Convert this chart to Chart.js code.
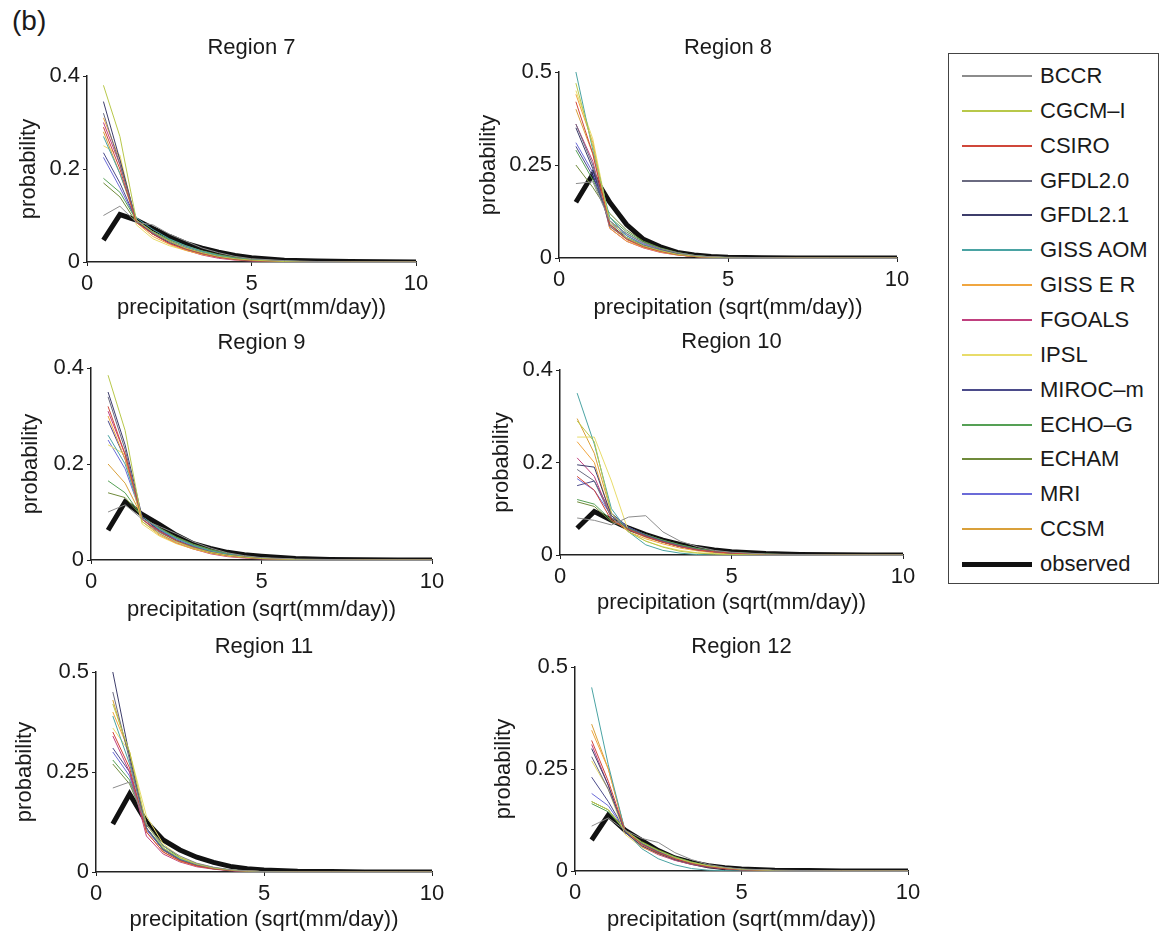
<!DOCTYPE html>
<html>
<head>
<meta charset="utf-8">
<script src="https://cdn.jsdelivr.net/npm/chart.js@4.4.0/dist/chart.umd.min.js"></script>
<style>
  body { margin: 0; background: #fff; width: 1163px; height: 933px; position: relative; overflow: hidden;
         font-family: "Liberation Sans", Arial, sans-serif; color: #1a1a1a; }
  canvas { position: absolute; }
  #tag { position: absolute; left: 12px; top: 5px; font-size: 28px; }
  #legend { position: absolute; left: 948px; top: 53px; width: 211px; height: 531px;
            border: 1px solid #444; box-sizing: border-box; }
  .row { position: absolute; left: 0; height: 26px; font-size: 22px; line-height: 26px; width: 100%; }
  .swatch { position: absolute; left: 13px; width: 70px; }
  .label { position: absolute; left: 91px; white-space: nowrap; }
</style>
</head>
<body>
<div id="tag">(b)</div>
<div id="legend"></div>
<script>
// precipitation bins, sqrt(mm/day)
const xValues = [0.5, 1, 1.5, 2, 2.5, 3, 3.5, 4, 4.5, 5, 6, 7, 8, 9, 10];

const models = ['BCCR', 'CGCM\u2013I', 'CSIRO', 'GFDL2.0', 'GFDL2.1', 'GISS AOM', 'GISS E R',
                'FGOALS', 'IPSL', 'MIROC\u2013m', 'ECHO\u2013G', 'ECHAM', 'MRI', 'CCSM'];
const modelColors = ['#8c8c8c', '#b8c84a', '#d0473a', '#6a6a80', '#3d3d6b', '#4aa3a3', '#f0a640',
                     '#c0407f', '#e8dc6a', '#4b4b8a', '#55a055', '#6f8a3a', '#6b6bd8', '#d9a03a'];

// one row per model, same order as `models`
const region7 = [
  [0.10, 0.12, 0.085, 0.08, 0.06, 0.045, 0.03, 0.02, 0.012, 0.007, 0.003, 0.001, 0, 0, 0],
  [0.38, 0.27, 0.09, 0.065, 0.045, 0.03, 0.02, 0.012, 0.007, 0.004, 0.001, 0, 0, 0, 0],
  [0.29, 0.20, 0.085, 0.06, 0.04, 0.028, 0.018, 0.01, 0.006, 0.003, 0.001, 0, 0, 0, 0],
  [0.32, 0.21, 0.09, 0.062, 0.045, 0.03, 0.02, 0.012, 0.007, 0.004, 0.001, 0, 0, 0, 0],
  [0.345, 0.22, 0.088, 0.06, 0.042, 0.028, 0.018, 0.011, 0.006, 0.003, 0.001, 0, 0, 0, 0],
  [0.27, 0.19, 0.095, 0.07, 0.05, 0.035, 0.023, 0.014, 0.008, 0.005, 0.002, 0, 0, 0, 0],
  [0.31, 0.22, 0.085, 0.055, 0.038, 0.025, 0.016, 0.01, 0.005, 0.003, 0.001, 0, 0, 0, 0],
  [0.30, 0.21, 0.09, 0.06, 0.04, 0.026, 0.015, 0.008, 0.004, 0.002, 0.001, 0, 0, 0, 0],
  [0.25, 0.23, 0.08, 0.05, 0.035, 0.025, 0.017, 0.01, 0.006, 0.003, 0.001, 0, 0, 0, 0],
  [0.235, 0.17, 0.09, 0.065, 0.045, 0.03, 0.02, 0.012, 0.007, 0.004, 0.001, 0, 0, 0, 0],
  [0.18, 0.15, 0.09, 0.065, 0.048, 0.034, 0.023, 0.015, 0.009, 0.005, 0.002, 0, 0, 0, 0],
  [0.17, 0.14, 0.085, 0.065, 0.048, 0.035, 0.024, 0.016, 0.01, 0.006, 0.002, 0, 0, 0, 0],
  [0.225, 0.16, 0.09, 0.063, 0.045, 0.032, 0.021, 0.013, 0.008, 0.004, 0.001, 0, 0, 0, 0],
  [0.28, 0.19, 0.09, 0.062, 0.044, 0.03, 0.02, 0.012, 0.007, 0.004, 0.001, 0, 0, 0, 0]
];
const observed7 = [0.047, 0.102, 0.09, 0.072, 0.055, 0.04, 0.03, 0.021, 0.014, 0.009, 0.004, 0.002, 0.001, 0.0005, 0];

const region8 = [
  [0.20, 0.205, 0.10, 0.065, 0.04, 0.025, 0.014, 0.007, 0.003, 0.002, 0.001, 0, 0, 0, 0],
  [0.47, 0.30, 0.10, 0.055, 0.033, 0.02, 0.01, 0.005, 0.002, 0.001, 0, 0, 0, 0, 0],
  [0.42, 0.28, 0.09, 0.05, 0.03, 0.018, 0.009, 0.004, 0.002, 0.001, 0, 0, 0, 0, 0],
  [0.36, 0.25, 0.085, 0.052, 0.032, 0.019, 0.01, 0.005, 0.002, 0.001, 0, 0, 0, 0, 0],
  [0.35, 0.24, 0.09, 0.055, 0.034, 0.02, 0.011, 0.005, 0.002, 0.001, 0, 0, 0, 0, 0],
  [0.50, 0.29, 0.11, 0.06, 0.035, 0.02, 0.01, 0.005, 0.002, 0.001, 0, 0, 0, 0, 0],
  [0.44, 0.31, 0.08, 0.045, 0.028, 0.016, 0.008, 0.004, 0.002, 0.001, 0, 0, 0, 0, 0],
  [0.36, 0.26, 0.08, 0.045, 0.027, 0.015, 0.008, 0.004, 0.002, 0.001, 0, 0, 0, 0, 0],
  [0.45, 0.32, 0.095, 0.05, 0.03, 0.017, 0.009, 0.004, 0.002, 0.001, 0, 0, 0, 0, 0],
  [0.30, 0.22, 0.10, 0.065, 0.04, 0.024, 0.013, 0.006, 0.003, 0.001, 0, 0, 0, 0, 0],
  [0.29, 0.21, 0.11, 0.07, 0.043, 0.026, 0.014, 0.007, 0.003, 0.001, 0, 0, 0, 0, 0],
  [0.25, 0.19, 0.12, 0.075, 0.045, 0.027, 0.015, 0.007, 0.003, 0.001, 0, 0, 0, 0, 0],
  [0.31, 0.23, 0.095, 0.06, 0.037, 0.022, 0.012, 0.006, 0.003, 0.001, 0, 0, 0, 0, 0],
  [0.40, 0.28, 0.085, 0.05, 0.03, 0.017, 0.009, 0.004, 0.002, 0.001, 0, 0, 0, 0, 0]
];
const observed8 = [0.15, 0.225, 0.15, 0.09, 0.05, 0.03, 0.015, 0.008, 0.004, 0.002, 0.001, 0, 0, 0, 0];

const region9 = [
  [0.10, 0.115, 0.085, 0.07, 0.055, 0.038, 0.025, 0.015, 0.009, 0.005, 0.002, 0.001, 0, 0, 0],
  [0.385, 0.27, 0.08, 0.055, 0.038, 0.025, 0.016, 0.01, 0.006, 0.003, 0.001, 0, 0, 0, 0],
  [0.32, 0.22, 0.085, 0.06, 0.04, 0.026, 0.016, 0.01, 0.006, 0.003, 0.001, 0, 0, 0, 0],
  [0.34, 0.23, 0.085, 0.058, 0.04, 0.027, 0.017, 0.01, 0.006, 0.003, 0.001, 0, 0, 0, 0],
  [0.35, 0.24, 0.09, 0.06, 0.04, 0.026, 0.016, 0.01, 0.006, 0.003, 0.001, 0, 0, 0, 0],
  [0.26, 0.20, 0.09, 0.065, 0.045, 0.03, 0.019, 0.012, 0.007, 0.004, 0.001, 0, 0, 0, 0],
  [0.30, 0.21, 0.08, 0.052, 0.035, 0.023, 0.014, 0.008, 0.005, 0.003, 0.001, 0, 0, 0, 0],
  [0.31, 0.22, 0.085, 0.055, 0.036, 0.023, 0.013, 0.007, 0.004, 0.002, 0.001, 0, 0, 0, 0],
  [0.24, 0.22, 0.075, 0.05, 0.034, 0.023, 0.015, 0.009, 0.005, 0.003, 0.001, 0, 0, 0, 0],
  [0.29, 0.21, 0.09, 0.062, 0.042, 0.028, 0.018, 0.011, 0.006, 0.003, 0.001, 0, 0, 0, 0],
  [0.165, 0.14, 0.09, 0.066, 0.047, 0.032, 0.021, 0.013, 0.008, 0.004, 0.001, 0, 0, 0, 0],
  [0.14, 0.13, 0.09, 0.067, 0.048, 0.033, 0.022, 0.014, 0.008, 0.004, 0.001, 0, 0, 0, 0],
  [0.25, 0.19, 0.09, 0.063, 0.044, 0.03, 0.019, 0.012, 0.007, 0.004, 0.001, 0, 0, 0, 0],
  [0.20, 0.16, 0.09, 0.064, 0.045, 0.031, 0.02, 0.012, 0.007, 0.004, 0.001, 0, 0, 0, 0]
];
const observed9 = [0.062, 0.121, 0.095, 0.074, 0.052, 0.034, 0.024, 0.016, 0.011, 0.008, 0.003, 0.001, 0.0005, 0, 0];

const region10 = [
  [0.08, 0.075, 0.065, 0.082, 0.085, 0.05, 0.03, 0.018, 0.01, 0.006, 0.002, 0.001, 0, 0, 0],
  [0.29, 0.245, 0.09, 0.05, 0.03, 0.017, 0.008, 0.004, 0.002, 0.001, 0, 0, 0, 0, 0],
  [0.17, 0.14, 0.075, 0.055, 0.04, 0.028, 0.018, 0.011, 0.007, 0.004, 0.001, 0, 0, 0, 0],
  [0.185, 0.16, 0.08, 0.056, 0.041, 0.029, 0.019, 0.012, 0.007, 0.004, 0.001, 0, 0, 0, 0],
  [0.195, 0.19, 0.085, 0.055, 0.04, 0.028, 0.018, 0.011, 0.007, 0.004, 0.001, 0, 0, 0, 0],
  [0.35, 0.24, 0.10, 0.05, 0.022, 0.01, 0.004, 0.001, 0, 0, 0, 0, 0, 0, 0],
  [0.245, 0.20, 0.08, 0.05, 0.035, 0.024, 0.015, 0.009, 0.005, 0.003, 0.001, 0, 0, 0, 0],
  [0.21, 0.17, 0.08, 0.055, 0.04, 0.028, 0.018, 0.011, 0.006, 0.003, 0.001, 0, 0, 0, 0],
  [0.255, 0.255, 0.16, 0.05, 0.03, 0.018, 0.01, 0.005, 0.003, 0.001, 0, 0, 0, 0, 0],
  [0.15, 0.16, 0.09, 0.06, 0.043, 0.03, 0.02, 0.012, 0.007, 0.004, 0.001, 0, 0, 0, 0],
  [0.12, 0.11, 0.075, 0.058, 0.044, 0.032, 0.022, 0.014, 0.008, 0.005, 0.002, 0, 0, 0, 0],
  [0.115, 0.105, 0.072, 0.057, 0.044, 0.032, 0.022, 0.014, 0.009, 0.005, 0.002, 0, 0, 0, 0],
  [0.165, 0.14, 0.085, 0.06, 0.043, 0.03, 0.02, 0.012, 0.007, 0.004, 0.001, 0, 0, 0, 0],
  [0.295, 0.22, 0.09, 0.055, 0.038, 0.027, 0.018, 0.011, 0.006, 0.003, 0.001, 0, 0, 0, 0]
];
const observed10 = [0.058, 0.094, 0.075, 0.058, 0.044, 0.032, 0.023, 0.016, 0.011, 0.007, 0.003, 0.0012, 0.0005, 0, 0];

const region11 = [
  [0.21, 0.225, 0.12, 0.065, 0.04, 0.022, 0.012, 0.006, 0.003, 0.001, 0, 0, 0, 0, 0],
  [0.42, 0.30, 0.12, 0.06, 0.035, 0.02, 0.01, 0.005, 0.002, 0.001, 0, 0, 0, 0, 0],
  [0.35, 0.26, 0.10, 0.05, 0.028, 0.015, 0.008, 0.004, 0.002, 0.001, 0, 0, 0, 0, 0],
  [0.45, 0.28, 0.11, 0.055, 0.03, 0.017, 0.009, 0.004, 0.002, 0.001, 0, 0, 0, 0, 0],
  [0.50, 0.29, 0.11, 0.055, 0.03, 0.016, 0.008, 0.004, 0.002, 0.001, 0, 0, 0, 0, 0],
  [0.39, 0.27, 0.11, 0.06, 0.033, 0.018, 0.01, 0.005, 0.002, 0.001, 0, 0, 0, 0, 0],
  [0.40, 0.30, 0.10, 0.05, 0.027, 0.015, 0.008, 0.004, 0.002, 0.001, 0, 0, 0, 0, 0],
  [0.34, 0.25, 0.09, 0.045, 0.025, 0.013, 0.007, 0.003, 0.001, 0, 0, 0, 0, 0, 0],
  [0.36, 0.30, 0.14, 0.07, 0.038, 0.02, 0.01, 0.005, 0.002, 0.001, 0, 0, 0, 0, 0],
  [0.31, 0.25, 0.11, 0.058, 0.032, 0.018, 0.01, 0.005, 0.002, 0.001, 0, 0, 0, 0, 0],
  [0.28, 0.23, 0.12, 0.065, 0.036, 0.02, 0.011, 0.005, 0.002, 0.001, 0, 0, 0, 0, 0],
  [0.27, 0.22, 0.12, 0.066, 0.037, 0.021, 0.011, 0.005, 0.002, 0.001, 0, 0, 0, 0, 0],
  [0.30, 0.24, 0.105, 0.056, 0.031, 0.017, 0.009, 0.004, 0.002, 0.001, 0, 0, 0, 0, 0],
  [0.43, 0.29, 0.11, 0.055, 0.03, 0.016, 0.008, 0.004, 0.002, 0.001, 0, 0, 0, 0, 0]
];
const observed11 = [0.12, 0.195, 0.125, 0.08, 0.055, 0.037, 0.024, 0.014, 0.008, 0.005, 0.002, 0.001, 0, 0, 0];

const region12 = [
  [0.11, 0.13, 0.10, 0.08, 0.07, 0.045, 0.028, 0.016, 0.009, 0.005, 0.002, 0.001, 0, 0, 0],
  [0.17, 0.15, 0.10, 0.07, 0.05, 0.033, 0.021, 0.013, 0.008, 0.004, 0.001, 0, 0, 0, 0],
  [0.32, 0.22, 0.10, 0.065, 0.045, 0.03, 0.019, 0.011, 0.006, 0.003, 0.001, 0, 0, 0, 0],
  [0.28, 0.20, 0.10, 0.066, 0.046, 0.03, 0.019, 0.011, 0.006, 0.003, 0.001, 0, 0, 0, 0],
  [0.30, 0.21, 0.095, 0.062, 0.043, 0.028, 0.018, 0.01, 0.006, 0.003, 0.001, 0, 0, 0, 0],
  [0.45, 0.26, 0.10, 0.055, 0.03, 0.015, 0.006, 0.002, 0.001, 0, 0, 0, 0, 0, 0],
  [0.345, 0.25, 0.10, 0.06, 0.042, 0.028, 0.018, 0.011, 0.006, 0.003, 0.001, 0, 0, 0, 0],
  [0.31, 0.21, 0.095, 0.06, 0.04, 0.026, 0.016, 0.009, 0.005, 0.002, 0.001, 0, 0, 0, 0],
  [0.27, 0.20, 0.09, 0.058, 0.042, 0.03, 0.02, 0.012, 0.007, 0.004, 0.001, 0, 0, 0, 0],
  [0.23, 0.17, 0.10, 0.068, 0.047, 0.031, 0.02, 0.012, 0.007, 0.004, 0.001, 0, 0, 0, 0],
  [0.165, 0.145, 0.10, 0.07, 0.05, 0.034, 0.022, 0.013, 0.008, 0.004, 0.001, 0, 0, 0, 0],
  [0.17, 0.15, 0.10, 0.072, 0.052, 0.035, 0.022, 0.013, 0.008, 0.004, 0.001, 0, 0, 0, 0],
  [0.19, 0.16, 0.10, 0.068, 0.048, 0.032, 0.02, 0.012, 0.007, 0.004, 0.001, 0, 0, 0, 0],
  [0.36, 0.25, 0.10, 0.062, 0.043, 0.029, 0.018, 0.011, 0.006, 0.003, 0.001, 0, 0, 0, 0]
];
const observed12 = [0.076, 0.137, 0.10, 0.075, 0.05, 0.032, 0.021, 0.013, 0.008, 0.005, 0.002, 0.001, 0, 0, 0];

const titles = ['Region 7', 'Region 8', 'Region 9', 'Region 10', 'Region 11', 'Region 12'];
const yMax = [0.4, 0.5, 0.4, 0.4, 0.5, 0.5];

// plot-area placement of each panel on the page
const panels = [
  {left: 87,  right: 416, top: 76,  bottom: 262, yTitleX: 29,  xTitleY: 308, titleY: 48},
  {left: 559, right: 897, top: 72,  bottom: 258, yTitleX: 489, xTitleY: 308, titleY: 48},
  {left: 91,  right: 432, top: 368, bottom: 560, yTitleX: 31,  xTitleY: 610, titleY: 343},
  {left: 560, right: 903, top: 370, bottom: 555, yTitleX: 502, xTitleY: 603, titleY: 342},
  {left: 96,  right: 432, top: 672, bottom: 872, yTitleX: 25,  xTitleY: 920, titleY: 647},
  {left: 575, right: 908, top: 667, bottom: 871, yTitleX: 504, xTitleY: 920, titleY: 647}
];

const FONT = {family: '"Liberation Sans", Arial, sans-serif', size: 22};
const TEXT = '#1a1a1a';

const panelTitle = {
  id: 'panelTitle',
  afterDraw(chart, args, opts) {
    const {ctx, chartArea} = chart;
    ctx.save();
    ctx.font = FONT.size + 'px ' + FONT.family;
    ctx.fillStyle = TEXT;
    ctx.textAlign = 'center';
    ctx.textBaseline = 'middle';
    ctx.fillText(opts.text, (chartArea.left + chartArea.right) / 2, opts.y);
    ctx.restore();
  }
};

function toPoints(ys) {
  return ys.map((y, k) => ({x: xValues[k], y: y}));
}

function makePanel(p, title, max, series, observed) {
  const cLeft = p.yTitleX - 13;
  const cTop = p.top - 40;
  const cBottom = p.xTitleY + 13;
  const canvas = document.createElement('canvas');
  canvas.width = p.right + 25 - cLeft;
  canvas.height = cBottom - cTop;
  canvas.style.left = cLeft + 'px';
  canvas.style.top = cTop + 'px';
  document.body.appendChild(canvas);

  const datasets = series.map((ys, i) => ({
    label: models[i],
    data: toPoints(ys),
    borderColor: modelColors[i],
    borderWidth: 1,
    pointRadius: 0,
    tension: 0
  }));
  datasets.push({
    label: 'observed',
    data: toPoints(observed),
    borderColor: '#111',
    borderWidth: 5,
    pointRadius: 0,
    tension: 0
  });

  const axisBase = {
    grid: {display: true, drawOnChartArea: false, drawTicks: true, tickLength: 4, color: '#222'},
    border: {display: true, color: '#222', width: 1.5}
  };

  new Chart(canvas, {
    type: 'line',
    data: {datasets: datasets},
    options: {
      responsive: false,
      animation: false,
      events: [],
      layout: {padding: {top: 40, right: 25, left: 0, bottom: 0}},
      plugins: {
        legend: {display: false},
        tooltip: {enabled: false},
        panelTitle: {text: title, y: p.titleY - cTop}
      },
      scales: {
        x: Object.assign({}, axisBase, {
          type: 'linear', min: 0, max: 10,
          ticks: {stepSize: 5, padding: 5, font: FONT, color: TEXT, maxRotation: 0},
          title: {display: true, text: 'precipitation (sqrt(mm/day))', font: FONT, color: TEXT, padding: 0},
          afterFit: function (s) { s.height = cBottom - p.bottom; }
        }),
        y: Object.assign({}, axisBase, {
          min: 0, max: max,
          ticks: {stepSize: max / 2, padding: 3, font: FONT, color: TEXT,
                  callback: v => String(Math.round(v * 100) / 100)},
          title: {display: true, text: 'probability', font: FONT, color: TEXT, padding: 0},
          afterFit: function (s) { s.width = p.left - cLeft; }
        })
      }
    },
    plugins: [panelTitle]
  });
}

const regionSeries = [region7, region8, region9, region10, region11, region12];
const observedSeries = [observed7, observed8, observed9, observed10, observed11, observed12];
panels.forEach((p, i) => makePanel(p, titles[i], yMax[i], regionSeries[i], observedSeries[i]));

// shared legend box
const legend = document.getElementById('legend');
const legendNames = models.concat(['observed']);
const legendColors = modelColors.concat(['#111']);
legendNames.forEach((name, i) => {
  const row = document.createElement('div');
  row.className = 'row';
  row.style.top = Math.round(22 + i * 34.86 - 13) + 'px';
  const sw = document.createElement('span');
  sw.className = 'swatch';
  const h = name === 'observed' ? 5 : 2;
  sw.style.top = Math.round(13 - h / 2) + 'px';
  sw.style.height = h + 'px';
  sw.style.background = legendColors[i];
  const lab = document.createElement('span');
  lab.className = 'label';
  lab.textContent = name;
  row.appendChild(sw);
  row.appendChild(lab);
  legend.appendChild(row);
});
</script>
</body>
</html>
